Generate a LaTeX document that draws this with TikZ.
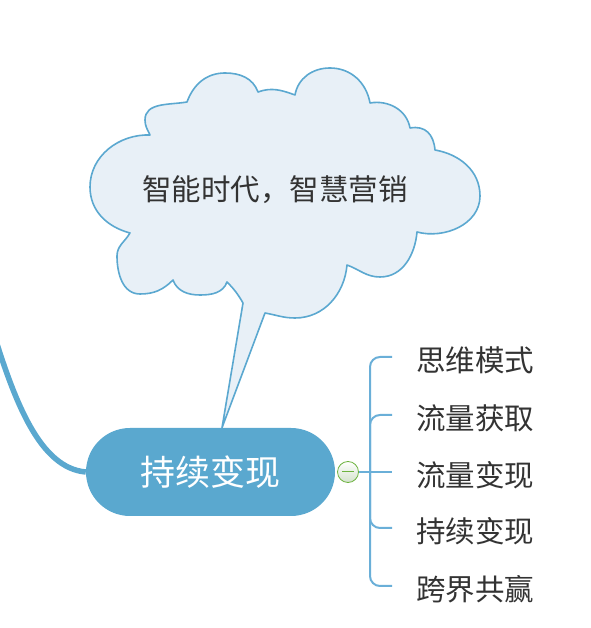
\documentclass[tikz,border=0pt]{standalone}
\usepackage{fontspec}
\newfontfamily\cjk{Noto Sans CJK SC}
\usetikzlibrary{backgrounds}
\definecolor{topicblue}{HTML}{5AA8CF}
\definecolor{cloudfill}{HTML}{E8F0F7}
\definecolor{cloudline}{HTML}{5BA8D0}
\definecolor{armblue}{HTML}{6AAFD8}
\definecolor{btngreen}{HTML}{6DB33F}
\definecolor{btnfill}{HTML}{D3E2CC}
\definecolor{textgray}{HTML}{333333}

\begin{document}
\begin{tikzpicture}[x=1pt,y=1pt,
  topic/.style={rounded corners=44pt,fill=topicblue,text=white,minimum width=249pt,minimum height=88pt,font=\cjk\fontsize{35}{36}\selectfont},
  item/.style={anchor=west,inner xsep=24pt,inner ysep=0pt,text height=33pt,text depth=4pt,text=textgray,font=\cjk\fontsize{29.5}{31}\selectfont},
  arm/.style={armblue,line width=2pt},
  btn/.style={circle,draw=btngreen,line width=0.8pt,inner sep=0pt,minimum size=21pt,top color=white,bottom color=btnfill,
    path picture={\draw[btngreen,line width=1pt] ([xshift=-6pt]path picture bounding box.center) -- ([xshift=6pt]path picture bounding box.center);}}]
\useasboundingbox (0,0) rectangle (590,628);

\node[topic] (main) at (210.5,156) {持续变现};
\coordinate (tip) at ([xshift=11.5pt]main.north);

\begin{scope}[on background layer]
% callout cloud with its tail on the topic
\draw[fill=cloudfill,draw=cloudline,line width=1.6pt,line join=round] (150,493)
  to[out=178,in=90] (90,441) to[out=270,in=165] (130,395)
  to[out=240,in=90] (117,372) to[out=270,in=180] (140,334) to[out=0,in=225] (173,348)
  to[out=290,in=180] (200,333) to[out=0,in=250] (227,346)
  to[out=-45,in=120] (243,325)
  -- (tip) -- (265,315)
  to[out=-10,in=180] (295,310) to[out=0,in=265] (347,363)
  to[out=-20,in=180] (380,351) to[out=0,in=265] (417,396)
  to[out=-15,in=270] (480,432) to[out=90,in=-10] (435,478)
  to[out=95,in=10,looseness=1.2] (410,500)
  to[out=100,in=10] (370,525)
  to[out=100,in=0] (330,560) to[out=180,in=80] (295,533)
  to[out=160,in=20] (258,536)
  to[out=110,in=0] (225,555) to[out=180,in=70] (187,526)
  to[out=190,in=90] (145,508) to[out=270,in=115] (150,493) -- cycle;
\draw[topicblue,line width=5.5pt] (-8,300) .. controls (15,225) and (40,160) .. (main.west);
\end{scope}

\node[text=textgray,font=\cjk\fontsize{29.5}{31}\selectfont] (slogan) at (275,438) {智能时代，智慧营销};

\node[btn] (toggle) at (348,156) {};
\coordinate (fork) at (370,156);

\node[item] (i1) at (392,271) {思维模式};
\node[item] (i2) at (392,213) {流量获取};
\node[item] (i3) at (392,156) {流量变现};
\node[item] (i4) at (392,100) {持续变现};
\node[item] (i5) at (392,42) {跨界共赢};

\draw[arm] (toggle.east) -- (i3.west);
\draw[arm,rounded corners=10pt] (fork) |- (i1.west);
\draw[arm,rounded corners=10pt] (fork) |- (i2.west);
\draw[arm,rounded corners=10pt] (fork) |- (i4.west);
\draw[arm,rounded corners=10pt] (fork) |- (i5.west);
\end{tikzpicture}
\end{document}
